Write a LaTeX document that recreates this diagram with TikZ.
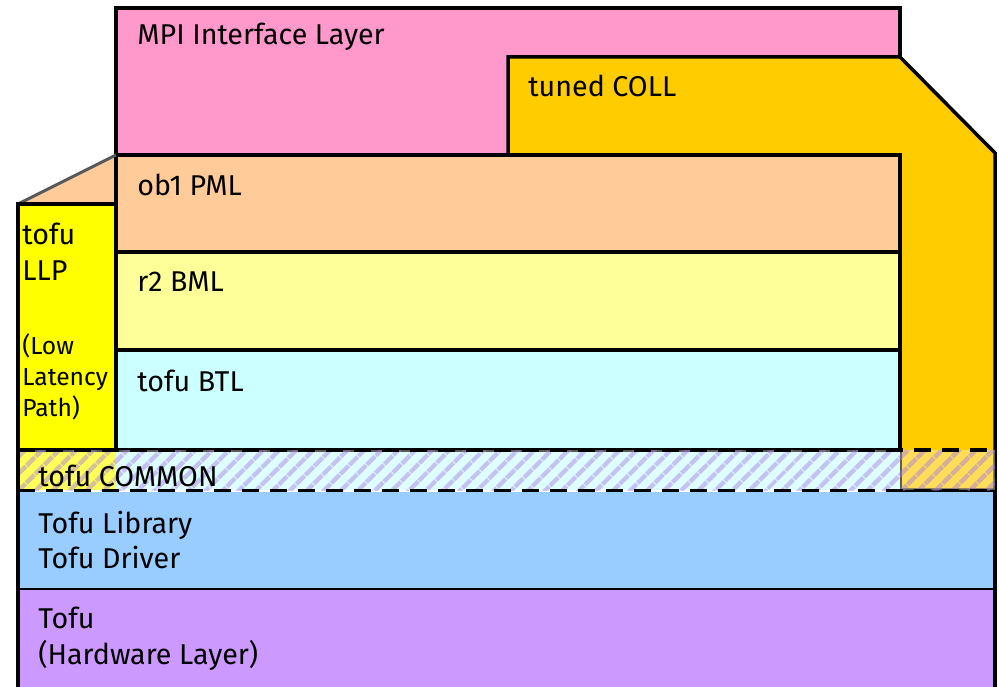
\documentclass[tikz,border=0pt]{standalone}
\usepackage{fontspec}
\setmainfont{Fira Sans}
\usetikzlibrary{patterns.meta}
\definecolor{mpipink}{RGB}{255,153,204}
\definecolor{collorange}{RGB}{255,204,0}
\definecolor{pmlpeach}{RGB}{255,204,153}
\definecolor{bmlyellow}{RGB}{255,255,153}
\definecolor{btlcyan}{RGB}{204,255,255}
\definecolor{llpyellow}{RGB}{255,255,0}
\definecolor{libblue}{RGB}{153,204,255}
\definecolor{hwpurple}{RGB}{204,153,255}
\definecolor{hatchpurple}{RGB}{165,120,230}
\tikzset{
  layer/.style={draw=black, line width=0.07cm, line join=miter},
  lbl/.style={anchor=west, inner sep=0pt, align=left, font=\fontsize{16.3}{20.4}\selectfont},
  smalllbl/.style={anchor=west, inner sep=0pt, align=left, font=\fontsize{14}{17.6}\selectfont},
}
\begin{document}
\begin{tikzpicture}[%
x=0.02cm, y=-0.02cm,
]
\useasboundingbox (0,0) rectangle (999,686);
\clip (0,0) rectangle (999,686);
%% layer;
\filldraw [layer, fill=mpipink] (116,8) rectangle (900,155);
%% layer;
\filldraw [layer, fill=collorange] (508,155) -- (508,57) -- (900,57) -- (995,153) -- (995,490) -- (900,490) -- (900,155) -- cycle;
%% layer;
\fill [pmlpeach] (116,155) -- (900,155) -- (900,252) -- (116,252) -- (116,204) -- (18,204) -- cycle;
\draw [layer] (116,155) rectangle (900,252);
\draw [color={rgb,255:red,89;green,89;blue,89}, line width=0.06cm] (116,155) -- (18,204);
%% layer;
\filldraw [layer, fill=bmlyellow] (116,252) rectangle (900,350);
%% layer;
\fill [btlcyan] (116,350) rectangle (900,490);
\draw [layer] (116,350) rectangle (900,450);
%% layer;
\fill [llpyellow] (18,204) rectangle (116,490);
\draw [layer] (18,204) rectangle (116,450);
%% common;
\fill [white, opacity=0.35] (18,450) rectangle (995,490);
\fill [pattern={Lines[angle=45, distance=0.26cm, line width=0.1cm]}, pattern color=hatchpurple, opacity=0.45] (18,450) rectangle (995,490);
\draw [black, line width=0.07cm, dash pattern=on 0.34cm off 0.22cm] (18,450) -- (995,450);
\draw [black, line width=0.07cm, dash pattern=on 0.34cm off 0.22cm] (18,491) -- (995,491);
\draw [black, line width=0.07cm] (18,440) -- (18,495);
%% layer;
\fill [libblue] (18,492) rectangle (995,590);
\draw [layer] (18,492) -- (18,590) -- (995,590) -- (995,492);
%% layer;
\fill [hwpurple] (18,590) rectangle (995,700);
\draw [layer] (18,590) -- (18,700);
\draw [layer] (995,590) -- (995,700);
%% labels;
\node [lbl] (mpi) at (137,37) {MPI Interface Layer};
\node [lbl] (coll) at (528,86) {tuned COLL};
\node [lbl] (pml) at (137,185) {ob1 PML};
\node [lbl] (bml) at (137,282) {r2 BML};
\node [lbl] (btl) at (137,381) {tofu BTL};
\node [lbl] (llp) at (22,252) {tofu\\LLP};
\node [smalllbl] (llpnote) at (22,377) {(Low\\Latency\\Path)};
\node [lbl] (common) at (38,476) {tofu COMMON};
\node [lbl] (lib) at (38,540) {Tofu Library\\Tofu Driver};
\node [lbl] (hw) at (38,639) {Tofu\\(Hardware Layer)};
\end{tikzpicture}
\end{document}
